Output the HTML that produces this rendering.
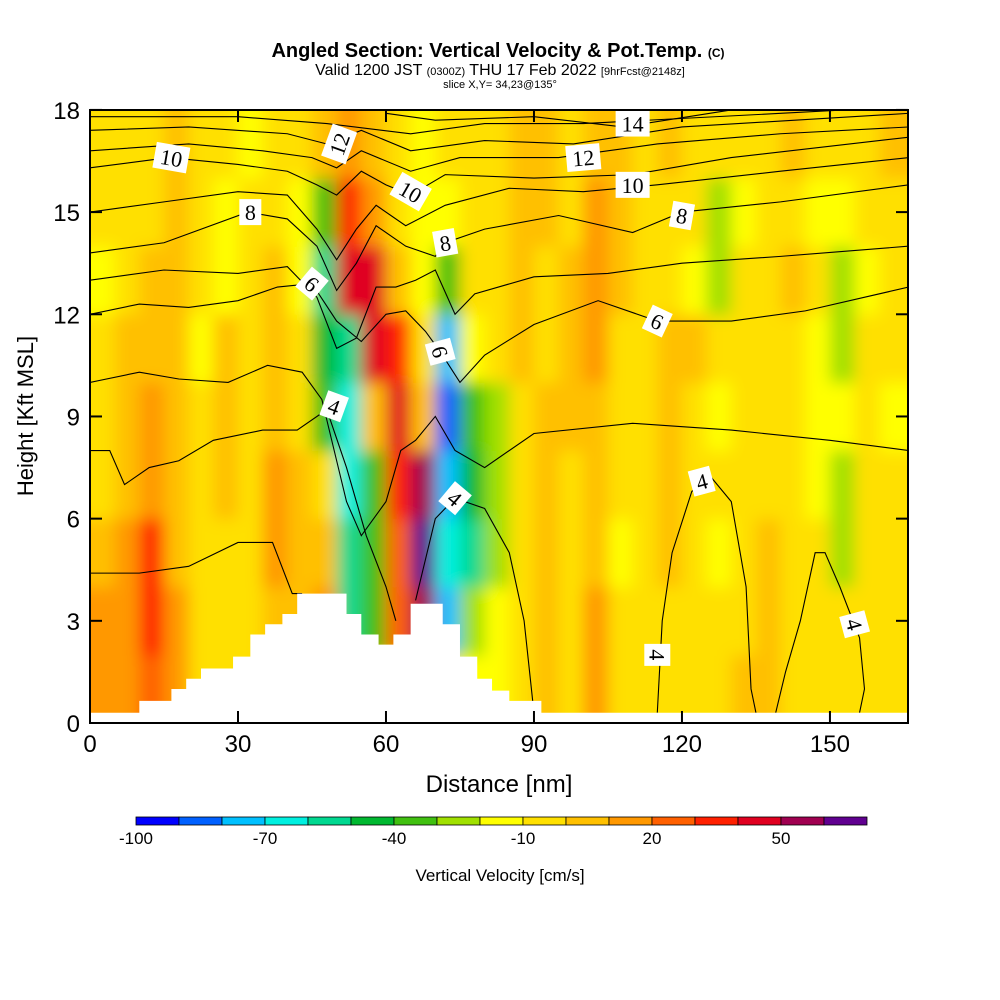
<!DOCTYPE html>
<html><head><meta charset="utf-8"><style>
body{margin:0;background:#fff;}
svg{display:block;font-family:"Liberation Sans",sans-serif;}
</style></head><body>
<svg id="chart" width="1000" height="1000" viewBox="0 0 1000 1000">
<defs>
<clipPath id="plotclip"><rect x="90" y="110" width="818" height="613"/></clipPath>
<filter id="blur" filterUnits="userSpaceOnUse" x="40" y="40" width="920" height="740"><feGaussianBlur stdDeviation="8"/></filter>
</defs>
<text x="498" y="57" text-anchor="middle" font-size="20" font-weight="bold">Angled Section: Vertical Velocity &amp; Pot.Temp. <tspan font-size="12">(C)</tspan></text>
<text x="500" y="75" text-anchor="middle" font-size="16">Valid 1200 JST <tspan font-size="11">(0300Z)</tspan> THU 17 Feb 2022 <tspan font-size="11">[9hrFcst@2148z]</tspan></text>
<text x="500" y="88" text-anchor="middle" font-size="11">slice X,Y= 34,23@135°</text>
<g clip-path="url(#plotclip)">
<g id="field" filter="url(#blur)"></g>
<g id="contours"></g>
<polygon id="terrain" fill="#fff"/>
<g id="clabels"></g>
</g>
<rect x="90" y="110" width="818" height="613" fill="none" stroke="#000" stroke-width="2"/>
<g id="axes"></g>
<text x="499" y="792" text-anchor="middle" font-size="24">Distance [nm]</text>
<text transform="translate(33,416) rotate(-90)" text-anchor="middle" font-size="22">Height [Kft MSL]</text>
<g id="cbar"></g>
<text x="500" y="881" text-anchor="middle" font-size="17">Vertical Velocity [cm/s]</text>
</svg>
<script>
const xCenters=[2.5,7.5,12.5,17.5,22.5,27.5,32.5,37.5,42.5,47.5,52.5,57.5,62.5,67.5,72.5,77.5,82.5,87.5,92.5,97.5,102.5,107.5,112.5,117.5,122.5,127.5,132.5,137.5,142.5,147.5,152.5,157.5,162.5];
const yCenters=[1,3,5,7,9,11,13,15,17];
const wRow1=[10,15,20,10,-10,-10,-10,0,-10,-10,-10,-10,-10,-10,-10,-20,-20,-5,0,-5,10,-10,-10,-10,-5,-10,0,5,-10,-10,-5,-10,-5];
const wRow3=[10,15,30,15,-5,-10,-10,5,0,10,-60,-40,20,50,-80,-30,-20,-5,5,-10,10,-10,-5,-10,-10,-10,-5,5,-10,-5,-10,-10,-5];
const wRow5=[5,15,30,5,-10,-5,-10,10,5,0,-60,-40,20,60,-70,-60,-30,-5,5,-10,5,-15,-10,0,-10,-15,-5,0,-10,-5,-30,-10,-5];
const wRow7=[-5,5,10,5,-10,0,-10,10,0,-10,-70,-40,30,50,-80,-50,-25,-5,0,-5,5,-10,-10,5,-10,-10,-5,-5,-10,-15,-30,-10,-10];
const wRow9=[-10,5,10,0,-10,0,-10,5,-5,-40,-70,0,40,0,-90,-40,-25,-5,0,0,5,-5,-10,0,-10,-15,-5,-5,-10,-15,-15,-10,-15];
const wRow11=[-10,0,5,0,-15,0,-10,0,-10,-50,-60,40,35,-5,-80,-20,-5,0,-10,0,10,-5,-10,0,5,-5,-10,-5,-10,-15,-25,-10,-10];
const wRow13=[-15,-5,0,5,-10,-15,-5,0,-20,-60,40,40,0,-20,-40,-5,-5,0,-5,0,10,0,-10,-5,-15,-25,-10,-5,0,-10,-30,-15,-10];
const wRow15=[-10,-5,-5,5,-10,-15,-10,-5,-15,-40,35,10,-10,-15,-20,-10,-5,0,5,-5,10,0,-5,-5,-10,-30,-20,-10,-5,-15,-20,-10,-5];
const wRow17=[-5,-5,-5,5,-5,-10,-15,-5,-10,0,10,0,-10,-15,-5,-10,-5,0,5,-5,5,0,-5,0,-5,-10,-10,-5,0,-5,-10,-5,0];
const wRows=[wRow1,wRow3,wRow5,wRow7,wRow9,wRow11,wRow13,wRow15,wRow17];
const cbarLevels=[-100,-90,-80,-70,-60,-50,-40,-30,-20,-10,0,10,20,30,40,50,60,70];
const cbarColors=["#0000ff","#0060ff","#00c0ff","#00f0e0","#00d890","#00b830","#40c010","#a0e000","#ffff00","#ffe000","#ffc000","#ff9800","#ff6000","#ff2000","#e00020","#a00050","#600090"];
const cbarTicks=[-100,-70,-40,-10,20,50];
const xTicks=[0,30,60,90,120,150];
const yTicks=[0,3,6,9,12,15,18];
const terrainX=[0,10,10,16.5,16.5,19.5,19.5,22.5,22.5,29,29,32.5,32.5,35.5,35.5,39,39,42,42,52,52,55,55,58.5,58.5,61.5,61.5,65,65,71.5,71.5,75,75,78.5,78.5,81.5,81.5,85,85,91.5,91.5,166];
const terrainY=[0.3,0.3,0.65,0.65,1.0,1.0,1.3,1.3,1.6,1.6,1.95,1.95,2.6,2.6,2.9,2.9,3.2,3.2,3.8,3.8,3.2,3.2,2.6,2.6,2.3,2.3,2.6,2.6,3.5,3.5,2.9,2.9,1.95,1.95,1.3,1.3,0.95,0.95,0.65,0.65,0.3,0.3];
const thetaLevels=[3,4,4,4,4,5,6,7,8,9,10,11,12,13,14];
const thetaLines=[
[[0,4.4],[10,4.4],[20,4.6],[30,5.3],[37,5.3],[41,3.8],[43,3.8]],
[[0,8.0],[4,8.0],[7,7.0],[12,7.5],[18,7.7],[25,8.3],[35,8.6],[42,8.6],[48,9.2],[52,7.5],[56,5.5],[60,4.0],[62,3.0]],
[[66,3.6],[70,6],[74,6.6],[80,6.3],[85,5],[88,3],[90,0.3]],
[[115,0.3],[116,3],[118,5],[122,6.8],[126,7.2],[130,6.5],[133,4],[134,1],[135,0.3]],
[[139,0.3],[141,1.5],[144,3],[147,5],[149,5.0],[152,4],[156,2.5],[157,1],[156,0.3]],
[[0,10.0],[10,10.3],[18,10.1],[28,10.0],[36,10.5],[43,10.3],[47,9.5],[52,6.5],[55,5.5],[60,6.5],[63,8.0],[66,8.3],[70,9],[74,8],[80,7.5],[90,8.5],[110,8.8],[130,8.6],[150,8.3],[166,8.0]],
[[0,12.0],[10,12.3],[20,12.2],[30,12.4],[38,12.8],[45,12.9],[50,11.8],[55,11.2],[60,12.0],[64,12.1],[68,11.5],[71,10.9],[75,10.0],[80,10.8],[90,11.7],[103,12.4],[115,11.8],[130,11.8],[145,12.1],[166,12.8]],
[[0,13.0],[15,13.3],[30,13.2],[40,13.4],[46,12.5],[50,11.0],[54,11.3],[58,12.8],[62,12.8],[66,13],[70,13.3],[74,12.0],[78,12.6],[90,13.1],[105,13.2],[120,13.5],[140,13.7],[166,14]],
[[0,13.8],[15,14.1],[32,15.0],[40,14.8],[46,14.0],[50,12.7],[54,13.5],[58,14.6],[64,14.0],[70,13.7],[72,14.1],[80,14.5],[95,14.9],[110,14.4],[120,15.0],[140,15.3],[166,15.8]],
[[0,15.0],[15,15.3],[30,15.6],[40,15.5],[46,14.5],[50,13.6],[54,14.5],[58,15.2],[64,14.6],[72,15.2],[85,15.7],[100,15.6],[115,15.8],[140,16.2],[166,16.6]],
[[0,16.3],[16,16.6],[30,16.4],[40,16.2],[46,15.8],[50,15.5],[55,16.2],[60,15.8],[65,15.5],[72,16.1],[90,16.0],[110,16.1],[130,16.6],[166,17.2]],
[[0,16.8],[20,17.0],[35,16.8],[45,16.6],[50,16.3],[55,16.8],[65,16.2],[75,16.6],[95,16.6],[115,17.0],[140,17.3],[166,17.5]],
[[0,17.4],[20,17.5],[40,17.3],[48,17.0],[55,17.4],[65,16.8],[80,17.1],[98,17.0],[120,17.5],[166,17.9]],
[[0,17.8],[30,17.8],[48,17.6],[65,17.3],[80,17.6],[100,17.6],[140,17.9],[166,18.1]],
[[60,17.9],[70,17.7],[90,17.8],[108,17.5],[130,18],[150,18.1]]
];
const labelText=["10","8","12","10","8","6","6","4","4","14","12","10","8","6","4","4","4"];
const labelX=[16.5,32.5,50.5,65,72,45,71,49.5,74,110,100,110,120,115,124,115,155];
const labelY=[16.6,15.0,17.0,15.6,14.1,12.9,10.9,9.3,6.6,17.6,16.6,15.8,14.9,11.8,7.1,2.0,2.9];
const labelRot=[10,0,-70,30,-10,40,75,20,40,0,-5,0,10,25,-15,90,75];

const NS="http://www.w3.org/2000/svg";
const X=v=>90+v*4.933, Y=v=>723-v*34.06;
function el(t,a,p){const e=document.createElementNS(NS,t);for(const k in a)e.setAttribute(k,a[k]);p.appendChild(e);return e;}
function colorFor(v){let i=Math.floor((v+100)/10);i=Math.max(0,Math.min(cbarColors.length-1,i));return cbarColors[i];}
const field=document.getElementById('field');
wRows.forEach((row,j)=>{row.forEach((v,i)=>{
  const x0=X(xCenters[i]-2.5-(i==0?10:0)), x1=X(xCenters[i]+2.5+(i==row.length-1?10:0));
  const y0=Y(yCenters[j]+1+(j==wRows.length-1?3:0)), y1=Y(yCenters[j]-1-(j==0?2:0));
  const r=el('rect',{x:x0,y:y0,width:x1-x0+0.5,height:y1-y0+0.5,fill:colorFor(v)},field);
  
  
});});
const cg=document.getElementById('contours');
thetaLines.forEach((pts,k)=>{
  const p=el('polyline',{points:pts.map(q=>X(q[0])+','+Y(q[1])).join(' '),fill:'none',stroke:'#000','stroke-width':1.1},cg);
  
  
});
document.getElementById('terrain').setAttribute('points',terrainX.map((x,i)=>X(x)+','+Y(terrainY[i])).join(' ')+' '+X(166)+','+Y(-1)+' '+X(0)+','+Y(-1));
const lg=document.getElementById('clabels');
labelText.forEach((t,i)=>{
  const g=el('g',{transform:`translate(${X(labelX[i])},${Y(labelY[i])}) rotate(${labelRot[i]})`},lg);
  
  
  const w=t.length*12+10;
  el('rect',{x:-w/2,y:-13,width:w,height:26,fill:'#fff'},g);
  el('text',{x:0,y:8,'text-anchor':'middle','font-size':22,'font-family':'"Liberation Serif",serif'},g).textContent=t;
});
const ax=document.getElementById('axes');
xTicks.forEach(t=>{
  el('line',{x1:X(t),x2:X(t),y1:723,y2:711,stroke:'#000','stroke-width':2},ax);
  el('line',{x1:X(t),x2:X(t),y1:110,y2:122,stroke:'#000','stroke-width':2},ax);
  const tx=el('text',{x:X(t),y:752,'text-anchor':'middle','font-size':24},ax);
  tx.textContent=t;
  
  
});
yTicks.forEach(t=>{
  el('line',{x1:90,x2:102,y1:Y(t),y2:Y(t),stroke:'#000','stroke-width':2},ax);
  el('line',{x1:908,x2:896,y1:Y(t),y2:Y(t),stroke:'#000','stroke-width':2},ax);
  const tx=el('text',{x:80,y:Y(t)+9,'text-anchor':'end','font-size':24},ax);
  tx.textContent=t;
  
  
});
const cb=document.getElementById('cbar');
const cbL=136, cbW=43;
cbarColors.forEach((c,i)=>{
  const r=el('rect',{x:cbL+i*cbW,y:817,width:cbW,height:8,fill:c,stroke:'#000','stroke-width':0.8},cb);
  
  
});
cbarTicks.forEach(t=>{
  const tx=el('text',{x:cbL+(t+100)/10*cbW,y:844,'text-anchor':'middle','font-size':17},cb);
  tx.textContent=t;
  
  
});
</script>
</body></html>
